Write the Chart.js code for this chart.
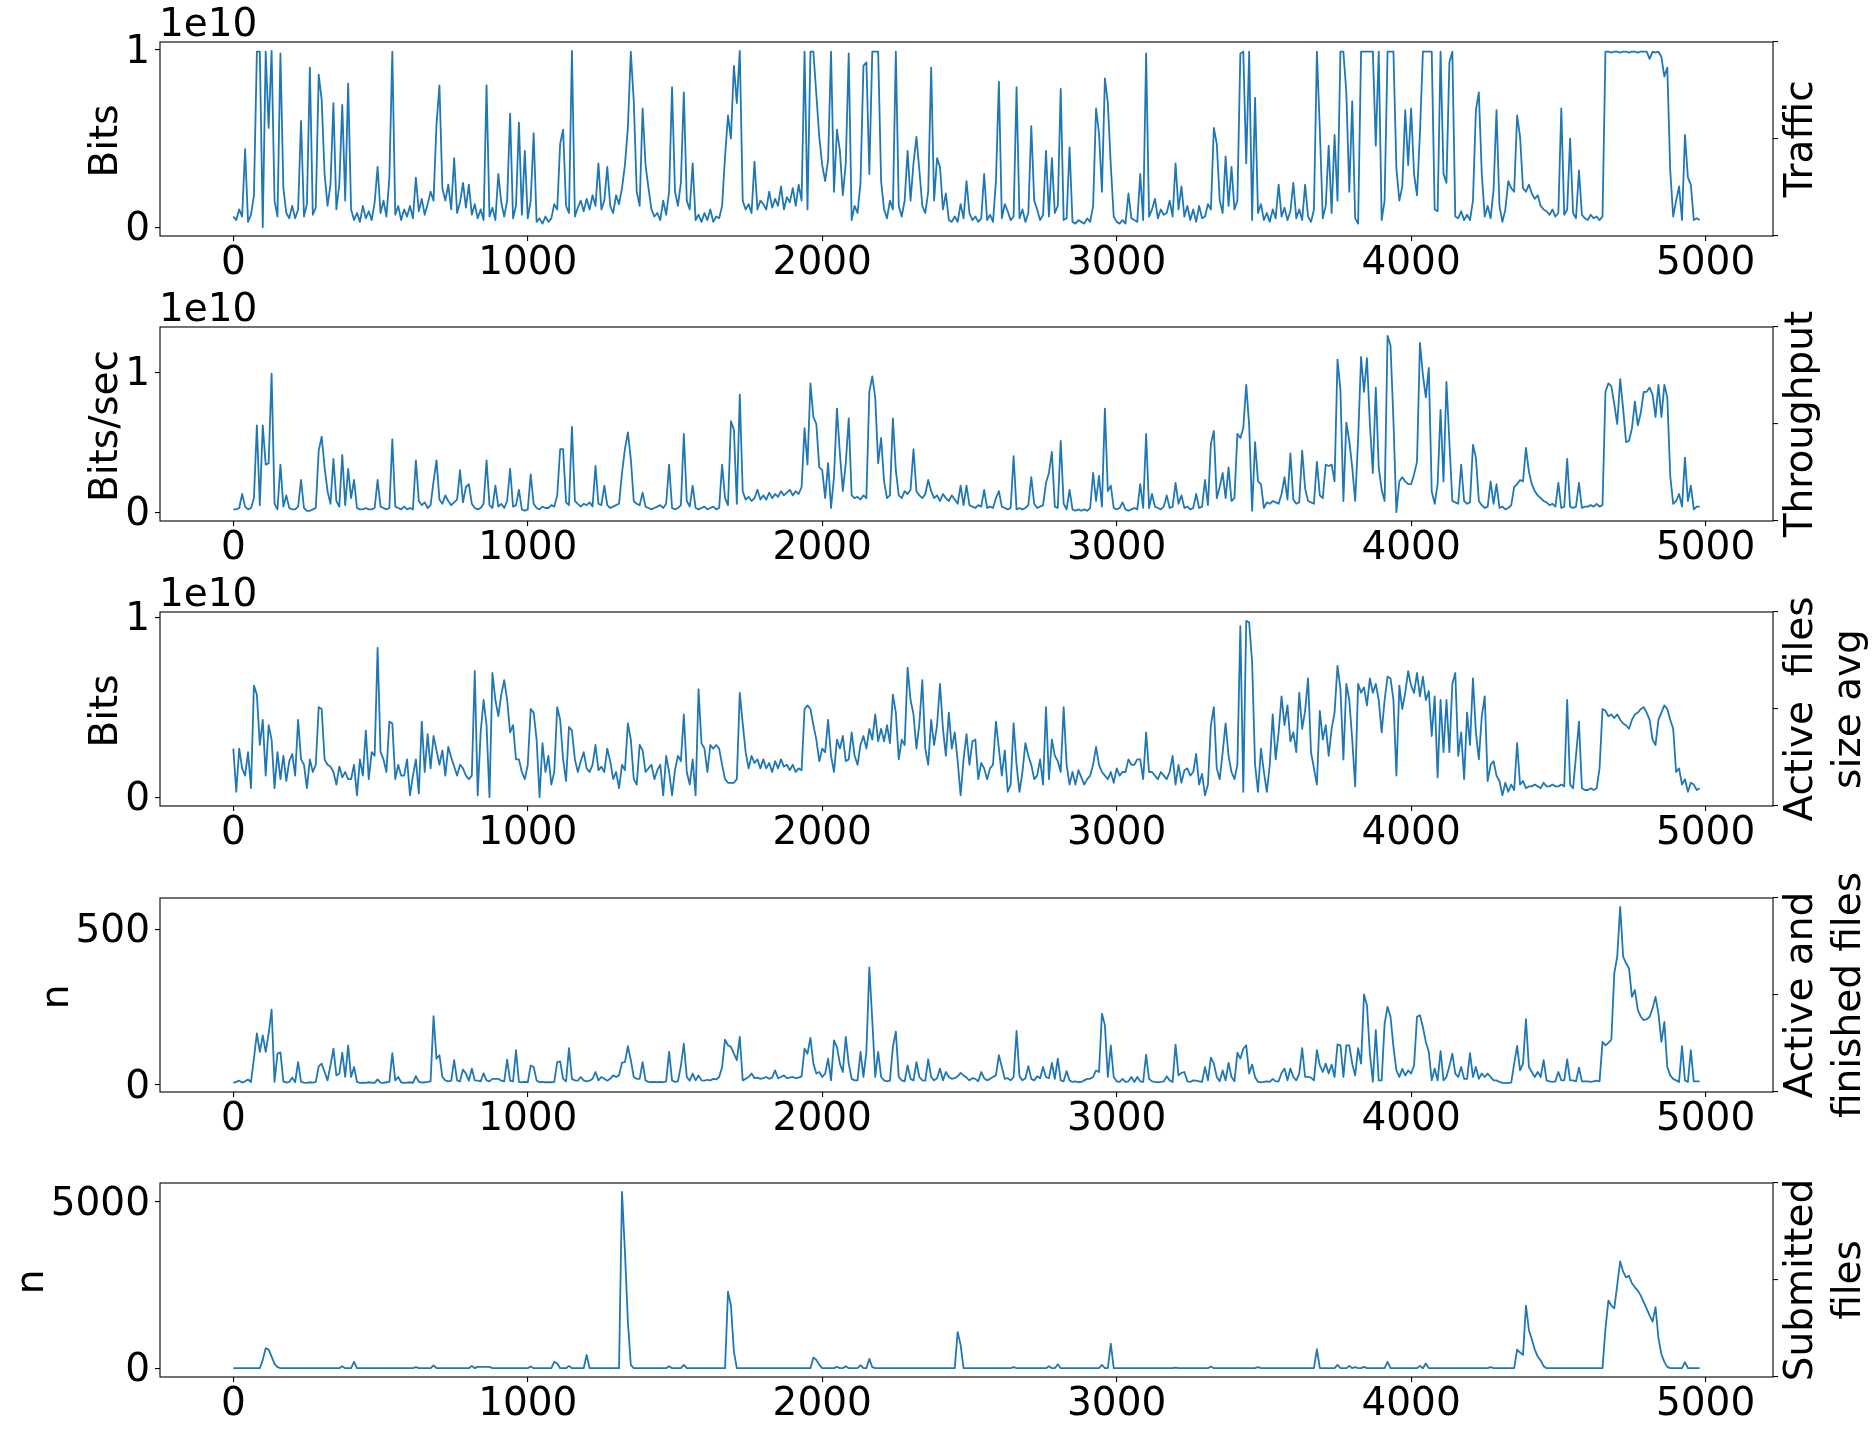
<!DOCTYPE html>
<html>
<head>
<meta charset="utf-8">
<title>Transfer metrics</title>
<script src="https://cdn.jsdelivr.net/npm/chart.js@4.4.1/dist/chart.umd.min.js"></script>
<style>
  html, body { margin: 0; padding: 0; background: #fff; }
  #figure { position: relative; width: 1875px; height: 1433px; overflow: hidden; }
  #figure canvas { position: absolute; left: 0; }
</style>
</head>
<body>
<div id="figure"></div>
<script>
// ── Data ────────────────────────────────────────────────────────────

// one sample every TIME_STEP seconds, starting at 0
const TIME_STEP = 10;
const X_TICKS = [0, 1000, 2000, 3000, 4000, 5000];

// Traffic, in 1e9 bits
const trafficGbit = [
  0.6, 0.4, 1.0, 0.6, 4.4, 0.3, 0.7, 1.8, 9.9, 9.9,
  0.0, 9.9, 5.6, 9.95, 1.5, 0.6, 9.8, 2.2, 0.8, 0.5,
  1.2, 0.5, 1.0, 6.0, 0.6, 1.3, 9.0, 0.7, 1.1, 8.6,
  7.2, 3.0, 1.2, 2.4, 7.0, 1.0, 2.4, 6.9, 1.5, 8.1,
  1.0, 0.4, 0.8, 0.3, 1.2, 0.5, 0.9, 0.4, 1.4, 3.4,
  0.8, 1.5, 0.6, 2.8, 9.9, 0.7, 1.2, 0.4, 1.0, 0.6,
  1.2, 0.5, 2.8, 0.9, 1.6, 0.7, 1.3, 2.0, 1.5, 5.8,
  8.0, 2.2, 1.5, 2.4, 1.0, 3.9, 0.8, 1.4, 2.5, 1.1,
  2.4, 0.7, 1.3, 0.5, 1.0, 0.4, 8.0, 0.6, 1.1, 0.4,
  3.0, 1.4, 0.6, 1.5, 6.4, 0.5, 1.2, 5.9, 0.7, 4.3,
  0.5, 1.5, 5.3, 0.3, 0.5, 0.2, 0.6, 0.3, 0.5, 1.3,
  1.0, 4.7, 5.5, 1.2, 0.8, 9.95, 0.6, 1.1, 1.5, 0.9,
  1.6, 1.0, 1.8, 1.2, 3.6, 1.0, 1.5, 3.4, 1.2, 0.8,
  1.8, 1.3, 2.2, 3.5, 5.6, 9.9, 7.1, 2.0, 1.2, 6.7,
  3.5, 2.2, 1.0, 0.6, 0.8, 0.4, 1.5, 0.7, 2.0, 7.9,
  2.0, 1.2, 2.5, 7.6, 1.5, 1.0, 3.6, 0.4, 0.7, 0.3,
  0.8, 0.4, 1.0, 0.3, 0.6, 0.5, 1.2, 4.0, 6.3, 5.0,
  9.1, 7.0, 9.95, 1.5, 1.0, 1.3, 0.8, 3.7, 1.0, 1.5,
  1.3, 1.0, 2.0, 1.1, 1.6, 1.2, 2.3, 1.0, 1.7, 1.4,
  2.2, 1.2, 2.4, 1.5, 9.9, 1.0, 9.9, 9.9, 7.5, 5.1,
  3.5, 2.6, 3.8, 9.9, 2.0, 5.5, 4.3, 1.8, 3.6, 9.8,
  0.4, 1.2, 0.8, 2.5, 9.1, 9.3, 3.0, 9.9, 9.9, 9.9,
  2.6, 1.0, 0.5, 1.5, 1.0, 9.9, 1.2, 0.6, 1.5, 4.3,
  1.5, 3.6, 5.1, 3.2, 1.2, 0.8, 2.0, 9.0, 1.5, 3.9,
  3.4, 1.0, 1.9, 0.4, 0.3, 0.6, 0.3, 1.3, 0.5, 2.6,
  0.8, 0.4, 0.6, 0.3, 0.5, 3.0, 0.4, 0.7, 0.3, 2.6,
  8.2, 0.5, 1.3, 0.9, 0.4, 0.6, 7.9, 0.5, 1.0, 0.3,
  0.8, 5.7, 1.5, 1.0, 0.4, 0.7, 4.3, 0.6, 3.9, 0.8,
  1.2, 7.8, 0.4, 0.5, 4.5, 0.3, 0.2, 0.4, 0.3, 0.2,
  0.5, 0.3, 1.2, 6.7, 5.3, 2.0, 8.4, 7.0, 3.5, 0.6,
  0.3, 0.2, 0.4, 0.2, 1.9, 0.5, 0.4, 0.3, 3.0, 0.4,
  9.8, 0.6, 1.0, 1.6, 0.5, 1.0, 0.7, 0.8, 1.5, 0.6,
  3.6, 1.0, 2.3, 0.6, 1.2, 0.4, 1.0, 0.3, 1.2, 0.5,
  0.6, 1.3, 1.0, 5.6, 4.7, 1.5, 0.8, 4.0, 1.2, 3.4,
  1.0, 1.5, 9.8, 9.9, 3.6, 9.9, 0.4, 7.3, 0.8, 1.3,
  0.4, 0.8, 0.3, 1.0, 0.5, 2.4, 0.6, 1.1, 0.4, 0.9,
  2.5, 0.5, 1.0, 0.4, 2.4, 0.6, 0.3, 1.0, 9.9, 5.5,
  0.5, 1.2, 4.6, 0.8, 5.2, 1.5, 9.9, 9.9, 7.6, 2.0,
  7.1, 0.5, 0.2, 9.9, 9.9, 9.9, 9.9, 9.9, 4.6, 9.9,
  0.4, 1.5, 9.9, 9.9, 9.9, 3.3, 1.5, 2.3, 6.6, 3.5,
  6.7, 3.0, 1.8, 5.3, 9.9, 9.9, 9.9, 9.9, 1.0, 0.9,
  9.9, 3.0, 2.5, 9.3, 9.9, 0.6, 0.5, 0.9, 0.4, 0.7,
  0.4, 1.5, 6.6, 7.6, 3.0, 0.6, 1.2, 0.5, 2.1, 6.6,
  1.2, 0.3, 1.0, 2.6, 2.2, 2.0, 6.3, 5.1, 2.2, 2.0,
  2.4, 1.9, 1.6, 1.8, 1.2, 1.0, 0.9, 0.7, 1.0, 0.6,
  0.8, 6.7, 0.7, 1.0, 5.0, 0.8, 0.5, 3.2, 0.7, 0.5,
  0.4, 0.7, 0.5, 0.6, 0.4, 0.6, 9.9, 9.9, 9.85, 9.9,
  9.9, 9.85, 9.9, 9.9, 9.85, 9.9, 9.9, 9.85, 9.9, 9.9,
  9.9, 9.5, 9.9, 9.85, 9.9, 9.6, 8.5, 9.0, 3.2, 0.6,
  1.5, 2.3, 0.4, 5.2, 2.8, 2.4, 0.4, 0.5, 0.4,
];

// Throughput, in 1e9 bits/sec
const throughputGbps = [
  0.2, 0.2, 0.3, 1.3, 0.4, 0.2, 0.3, 1.0, 6.2, 0.5,
  6.2, 3.4, 3.5, 9.9, 0.6, 0.2, 3.4, 0.4, 1.2, 0.3,
  0.2, 0.2, 0.4, 2.3, 0.3, 0.1, 0.1, 0.2, 0.3, 4.4,
  5.4, 3.2, 1.5, 0.6, 3.8, 0.8, 0.4, 4.1, 0.5, 3.1,
  1.0, 2.3, 0.3, 0.2, 0.2, 0.3, 0.2, 0.2, 0.3, 2.3,
  0.4, 0.3, 0.2, 0.3, 5.2, 0.4, 0.3, 0.2, 0.4, 0.2,
  0.3, 0.2, 3.7, 0.8, 0.5, 0.7, 0.3, 0.5, 2.2, 3.7,
  0.9, 0.6, 1.2, 0.8, 0.5, 0.7, 0.9, 3.0, 0.7, 1.8,
  2.0, 0.6, 0.3, 0.2, 0.3, 0.6, 3.7, 0.5, 0.3, 1.9,
  0.4, 0.6, 0.3, 0.8, 3.1, 0.4, 0.5, 1.6, 0.2, 0.1,
  0.2, 2.7, 0.6, 0.3, 0.2, 0.4, 0.3, 0.3, 0.5, 0.4,
  1.2, 4.5, 4.5, 0.7, 0.5, 6.1, 0.8, 0.6, 0.4, 0.6,
  0.5, 0.7, 0.4, 3.3, 0.6, 0.5, 1.9, 0.5, 0.3, 0.4,
  0.5, 0.6, 2.8, 4.5, 5.7, 3.8, 0.8, 0.6, 0.5, 1.4,
  0.4, 0.3, 0.2, 0.3, 0.4, 0.5, 0.3, 0.6, 3.4, 0.3,
  0.2, 0.3, 0.5, 5.6, 0.8, 0.4, 1.9, 0.3, 0.2, 0.3,
  0.4, 0.2, 0.3, 0.4, 0.2, 0.3, 3.4, 1.0, 0.5, 6.5,
  5.9, 0.6, 8.4, 1.5, 0.9, 1.1, 0.8, 1.0, 1.6, 0.9,
  1.2, 0.9, 1.4, 1.0, 1.3, 1.1, 1.5, 1.2, 1.4, 1.6,
  1.2, 1.5, 1.3, 1.8, 6.0, 3.4, 9.2, 6.8, 6.3, 3.2,
  3.0, 1.0, 3.5, 0.3, 2.5, 7.4, 4.2, 1.5, 3.5, 6.7,
  1.2, 1.0, 1.1, 0.9, 1.2, 1.0, 8.6, 9.7, 8.2, 3.5,
  5.3, 2.2, 1.0, 1.2, 6.7, 3.0, 1.2, 1.0, 1.5, 1.3,
  1.6, 4.5, 1.5, 1.2, 1.0, 1.3, 2.3, 1.5, 1.0, 1.2,
  0.8, 1.3, 1.0, 0.8, 1.2, 0.9, 0.6, 1.9, 0.5, 1.9,
  0.5, 0.4, 0.3, 0.5, 0.4, 1.6, 0.3, 0.4, 0.3, 1.0,
  1.5, 0.4, 0.3, 0.2, 0.3, 4.0, 0.2, 0.3, 0.2, 0.3,
  0.5, 2.5, 0.6, 0.3, 0.4, 0.5, 2.1, 2.8, 4.3, 0.4,
  0.3, 5.1, 0.6, 0.2, 1.6, 0.2, 0.1, 0.2, 0.1, 0.2,
  0.1, 0.3, 2.8, 0.8, 2.6, 0.4, 7.4, 1.5, 1.9, 0.3,
  0.2, 0.3, 0.7, 0.2, 0.1, 0.2, 0.3, 0.2, 2.0, 0.3,
  5.6, 0.3, 1.3, 0.4, 0.3, 0.2, 0.4, 1.2, 0.3, 0.4,
  2.1, 0.6, 1.2, 0.3, 0.4, 0.2, 0.3, 1.3, 0.3, 0.4,
  2.3, 0.5, 4.9, 5.8, 1.0, 1.8, 2.8, 1.0, 3.2, 0.8,
  1.0, 5.6, 5.3, 6.0, 9.1, 6.2, 0.1, 5.0, 2.2, 2.0,
  0.3, 0.7, 0.6, 0.8, 0.7, 0.6, 1.3, 2.5, 0.9, 4.2,
  0.9, 0.6, 0.7, 4.4, 1.7, 0.8, 0.7, 0.6, 3.6, 1.2,
  1.0, 3.4, 3.3, 3.4, 2.2, 10.9, 8.7, 0.8, 6.4, 5.1,
  3.2, 0.8, 5.2, 11.1, 8.6, 11.0, 6.3, 2.8, 8.9, 3.2,
  1.6, 0.8, 12.6, 11.9, 6.5, 0.0, 2.2, 2.5, 2.2, 2.0,
  2.0, 2.7, 3.6, 12.1, 9.8, 8.2, 10.3, 1.5, 0.6, 2.0,
  7.3, 2.2, 9.3, 5.0, 0.8, 0.7, 0.6, 3.4, 0.8, 0.6,
  0.7, 4.8, 3.9, 0.8, 0.5, 0.3, 0.4, 2.2, 0.6, 2.0,
  0.3, 0.4, 0.2, 0.3, 0.5, 1.8, 2.0, 2.3, 2.2, 4.6,
  2.9, 2.0, 1.5, 1.2, 1.0, 0.8, 0.7, 0.5, 0.6, 0.4,
  2.1, 0.3, 0.4, 3.8, 0.4, 0.3, 0.4, 2.1, 0.3, 0.4,
  0.4, 0.5, 0.4, 0.6, 0.4, 0.5, 8.6, 9.2, 9.0, 7.7,
  6.3, 9.5, 7.4, 5.0, 5.1, 6.0, 7.9, 6.2, 7.1, 8.6,
  8.6, 8.9, 8.4, 6.8, 9.1, 6.8, 9.1, 8.2, 2.6, 0.6,
  0.8, 1.3, 0.4, 3.9, 0.8, 1.9, 0.2, 0.4, 0.4,
];

// Average size of the active files, in 1e9 bits
const activeSizeGbit = [
  2.7, 0.3, 2.7, 1.6, 1.2, 2.5, 0.5, 6.2, 5.7, 2.9,
  4.3, 1.2, 4.0, 3.2, 0.5, 2.5, 1.0, 2.3, 0.9, 2.0,
  2.4, 1.2, 4.3, 2.1, 1.8, 0.5, 2.1, 1.4, 1.8, 5.0,
  4.9, 2.1, 1.8, 1.7, 1.4, 0.7, 1.7, 1.1, 1.4, 1.0,
  1.0, 1.8, 0.1, 2.1, 1.2, 3.7, 1.0, 2.5, 2.3, 8.3,
  2.5, 2.1, 1.4, 4.2, 4.1, 1.0, 1.8, 1.2, 1.2, 2.1,
  0.1, 1.2, 2.1, 0.2, 4.2, 1.4, 3.5, 1.6, 3.4, 2.6,
  1.8, 2.6, 1.2, 2.8, 2.2, 1.7, 1.2, 1.8, 1.6, 1.2,
  1.0, 1.2, 7.0, 0.1, 3.6, 5.4, 4.0, 0.0, 6.9, 5.4,
  4.5, 5.7, 6.5, 5.4, 3.6, 4.0, 2.1, 2.1, 1.4, 1.0,
  1.8, 4.9, 4.7, 3.2, 0.0, 3.0, 1.4, 2.3, 0.7, 1.4,
  5.0, 4.3, 2.1, 0.9, 3.9, 3.7, 2.1, 1.4, 2.0, 2.5,
  1.6, 1.4, 1.8, 2.9, 1.5, 1.7, 1.4, 2.7, 2.0, 1.0,
  1.4, 0.5, 1.8, 1.5, 4.1, 3.2, 1.0, 0.7, 2.9, 2.6,
  1.4, 1.6, 1.8, 1.0, 1.5, 1.8, 0.1, 2.3, 1.4, 0.1,
  1.5, 2.3, 2.0, 4.6, 1.4, 0.7, 2.1, 0.1, 6.0, 3.0,
  2.7, 1.4, 2.9, 2.7, 2.9, 2.7, 1.8, 1.0, 0.8, 0.8,
  0.8, 1.0, 5.8, 4.1, 2.5, 1.6, 2.3, 1.9, 2.1, 1.6,
  2.1, 1.6, 1.9, 1.4, 2.0, 1.6, 2.1, 1.7, 1.8, 1.5,
  1.8, 1.4, 1.6, 1.5, 4.9, 5.1, 4.9, 4.0, 3.2, 2.0,
  2.7, 2.5, 4.3, 2.3, 1.4, 3.2, 2.7, 3.4, 2.0, 2.1,
  3.6, 2.3, 1.8, 2.9, 3.4, 2.7, 3.8, 3.2, 4.6, 3.1,
  3.8, 3.1, 4.0, 3.0, 5.7, 4.7, 2.1, 3.2, 2.9, 7.2,
  5.4, 4.6, 2.7, 4.1, 6.5, 2.7, 1.8, 4.3, 2.9, 4.0,
  6.3, 3.8, 2.3, 4.7, 2.7, 3.6, 2.0, 0.1, 2.1, 3.5,
  1.8, 3.1, 3.2, 1.0, 1.9, 1.6, 1.0, 1.6, 1.8, 4.2,
  2.7, 1.2, 2.6, 0.3, 0.7, 4.1, 1.8, 0.3, 1.4, 3.0,
  2.3, 1.8, 1.0, 1.2, 2.1, 0.7, 5.0, 1.0, 3.2, 2.3,
  2.0, 1.4, 5.0, 1.8, 0.7, 1.4, 0.7, 1.5, 1.1, 0.7,
  1.0, 1.2, 1.8, 2.8, 1.8, 1.4, 1.2, 1.0, 1.4, 0.8,
  1.6, 1.2, 1.4, 1.4, 2.1, 1.8, 1.8, 2.1, 2.1, 1.0,
  3.6, 1.4, 1.4, 1.2, 1.0, 1.4, 1.2, 1.0, 1.4, 2.3,
  0.7, 1.8, 0.8, 1.5, 1.6, 1.2, 1.4, 2.4, 0.7, 1.3,
  0.1, 0.7, 4.0, 5.0, 1.6, 1.0, 2.5, 4.1, 2.3, 1.4,
  1.0, 1.8, 9.5, 0.3, 9.8, 9.7, 7.5, 1.8, 0.3, 2.7,
  1.4, 0.3, 1.8, 4.6, 2.1, 3.6, 5.6, 4.0, 5.1, 3.1,
  3.6, 2.5, 5.8, 3.8, 4.8, 6.6, 2.5, 1.6, 0.7, 4.8,
  3.2, 4.0, 2.3, 3.8, 4.7, 7.3, 6.0, 2.1, 6.3, 5.4,
  3.2, 0.6, 6.3, 5.8, 6.1, 5.1, 6.6, 5.8, 6.3, 5.4,
  3.6, 5.4, 6.7, 6.6, 5.4, 1.2, 6.2, 4.9, 5.8, 7.0,
  6.2, 5.8, 6.9, 5.6, 6.7, 5.4, 5.9, 3.4, 5.6, 1.1,
  5.4, 2.5, 5.4, 2.5, 6.3, 6.9, 2.3, 3.6, 1.0, 4.7,
  2.9, 6.6, 3.6, 2.1, 4.5, 5.6, 0.9, 1.8, 2.0, 1.2,
  0.9, 0.1, 0.8, 0.3, 0.7, 0.4, 3.0, 0.7, 0.9, 0.5,
  0.6, 0.6, 0.7, 0.6, 0.5, 0.8, 0.6, 0.6, 0.7, 0.6,
  0.6, 0.7, 0.6, 5.4, 0.7, 0.5, 2.3, 4.2, 0.5, 0.4,
  0.4, 0.5, 0.4, 0.5, 1.6, 4.9, 4.8, 4.5, 4.6, 4.4,
  4.6, 4.3, 4.1, 4.0, 3.8, 4.3, 4.6, 4.7, 4.9, 5.0,
  4.7, 4.3, 3.2, 2.9, 4.3, 4.7, 5.1, 4.9, 4.3, 3.8,
  1.4, 1.6, 0.7, 1.0, 0.3, 0.8, 0.7, 0.4, 0.5,
];

// Number of active and finished files
const activeFinishedFiles = [
  5, 8, 12, 6, 10, 16, 8, 83, 164, 105,
  158, 105, 164, 241, 8, 99, 103, 10, 6, 8,
  22, 7, 72, 8, 6, 5, 7, 6, 8, 58,
  67, 40, 13, 61, 115, 29, 35, 102, 24, 126,
  24, 56, 8, 5, 6, 5, 7, 6, 5, 16,
  6, 5, 7, 8, 101, 13, 24, 7, 5, 6,
  7, 5, 27, 8, 6, 7, 8, 10, 220, 83,
  94, 24, 13, 10, 12, 78, 13, 10, 48, 35,
  12, 51, 13, 12, 10, 36, 13, 10, 18, 18,
  18, 12, 10, 80, 12, 10, 110, 8, 7, 8,
  7, 61, 56, 13, 7, 8, 7, 7, 7, 8,
  72, 74, 18, 10, 117, 18, 13, 12, 24, 13,
  10, 12, 18, 40, 13, 24, 18, 12, 18, 29,
  24, 29, 70, 72, 123, 78, 24, 18, 18, 72,
  13, 8, 7, 8, 7, 8, 7, 10, 105, 13,
  8, 10, 60, 131, 24, 12, 35, 13, 29, 13,
  12, 15, 13, 18, 16, 24, 56, 144, 126, 121,
  99, 78, 153, 13, 18, 24, 35, 20, 22, 18,
  20, 24, 18, 22, 45, 20, 24, 29, 20, 22,
  24, 20, 22, 26, 115, 99, 150, 67, 35, 40,
  24, 35, 83, 13, 142, 120, 67, 40, 153, 67,
  18, 13, 13, 105, 24, 105, 377, 207, 24, 105,
  24, 13, 10, 12, 121, 170, 24, 13, 10, 61,
  18, 13, 72, 24, 13, 12, 81, 24, 13, 20,
  51, 13, 40, 24, 18, 20, 26, 37, 29, 22,
  13, 20, 18, 10, 40, 20, 13, 18, 24, 29,
  94, 56, 18, 20, 13, 24, 172, 26, 13, 20,
  59, 18, 13, 26, 20, 56, 24, 20, 69, 18,
  83, 13, 10, 43, 13, 8, 10, 7, 8, 13,
  18, 18, 24, 45, 40, 228, 191, 24, 126, 24,
  10, 8, 18, 8, 10, 24, 8, 24, 10, 8,
  96, 18, 10, 8, 7, 8, 10, 26, 13, 8,
  128, 29, 37, 40, 10, 8, 13, 12, 10, 8,
  56, 13, 86, 67, 24, 10, 45, 13, 69, 24,
  10, 102, 83, 115, 126, 35, 64, 24, 8, 7,
  8, 10, 8, 18, 10, 10, 37, 51, 13, 51,
  24, 13, 35, 117, 24, 24, 22, 13, 110, 61,
  40, 67, 35, 64, 24, 129, 126, 24, 126, 126,
  67, 29, 117, 67, 290, 255, 99, 8, 175, 13,
  13, 196, 250, 218, 121, 45, 24, 50, 29, 45,
  35, 61, 218, 223, 185, 137, 105, 13, 51, 13,
  107, 13, 24, 59, 99, 35, 24, 56, 18, 18,
  101, 24, 56, 18, 35, 24, 35, 24, 13, 13,
  8, 5, 4, 5, 6, 67, 124, 45, 67, 210,
  56, 40, 24, 40, 24, 78, 13, 10, 8, 10,
  40, 13, 13, 81, 13, 13, 10, 54, 10, 10,
  10, 8, 10, 12, 10, 137, 126, 134, 144, 358,
  412, 572, 412, 390, 374, 282, 304, 239, 218, 207,
  210, 218, 245, 282, 228, 137, 201, 56, 29, 18,
  13, 8, 123, 13, 8, 110, 10, 10, 10,
];

// Number of submitted files
const submittedFiles = [
  0, 0, 0, 0, 0, 0, 0, 0, 0, 0,
  250, 600, 558, 350, 130, 30, 0, 0, 0, 0,
  0, 0, 0, 0, 0, 0, 0, 0, 0, 0,
  0, 0, 0, 0, 0, 0, 0, 60, 0, 0,
  0, 189, 0, 0, 0, 0, 0, 0, 0, 0,
  0, 0, 0, 0, 0, 0, 0, 0, 0, 0,
  0, 0, 30, 0, 0, 0, 0, 0, 80, 0,
  0, 0, 0, 0, 0, 0, 0, 0, 0, 0,
  0, 70, 0, 40, 40, 40, 40, 40, 0, 0,
  0, 0, 0, 0, 0, 0, 0, 0, 0, 0,
  0, 50, 0, 0, 0, 0, 0, 0, 0, 189,
  139, 0, 0, 0, 70, 0, 0, 0, 0, 0,
  398, 0, 0, 0, 0, 0, 0, 0, 0, 0,
  0, 0, 5300, 3500, 1400, 90, 0, 0, 0, 0,
  0, 0, 0, 0, 0, 0, 0, 0, 60, 0,
  0, 0, 0, 100, 0, 0, 0, 0, 0, 0,
  0, 0, 0, 0, 0, 0, 0, 0, 2300, 1882,
  500, 0, 0, 0, 0, 0, 0, 0, 0, 0,
  0, 0, 0, 0, 0, 0, 0, 0, 0, 0,
  0, 0, 0, 0, 0, 0, 0, 319, 250, 100,
  0, 0, 0, 0, 0, 40, 0, 0, 60, 0,
  0, 0, 0, 90, 0, 0, 279, 30, 0, 0,
  0, 0, 0, 0, 0, 0, 0, 0, 0, 0,
  0, 0, 0, 0, 0, 0, 0, 0, 0, 0,
  0, 0, 0, 0, 0, 0, 1086, 700, 0, 0,
  0, 0, 0, 0, 0, 0, 0, 0, 0, 0,
  0, 0, 0, 0, 0, 30, 0, 0, 0, 0,
  0, 0, 0, 0, 0, 0, 0, 60, 0, 0,
  120, 0, 0, 0, 0, 0, 0, 0, 0, 0,
  0, 0, 0, 0, 0, 100, 0, 0, 737, 0,
  0, 0, 0, 0, 0, 0, 0, 0, 0, 0,
  0, 0, 0, 0, 0, 0, 0, 0, 0, 0,
  20, 0, 0, 0, 0, 0, 0, 0, 0, 0,
  0, 0, 50, 0, 0, 0, 0, 0, 0, 0,
  0, 0, 0, 0, 0, 0, 0, 0, 30, 0,
  0, 0, 0, 0, 0, 0, 0, 0, 0, 0,
  0, 0, 0, 0, 0, 0, 0, 0, 568, 0,
  0, 0, 0, 0, 0, 100, 0, 0, 0, 70,
  0, 30, 0, 0, 40, 0, 0, 0, 0, 0,
  0, 0, 189, 0, 0, 0, 0, 0, 0, 0,
  0, 0, 0, 70, 0, 139, 0, 0, 0, 0,
  0, 0, 0, 0, 0, 0, 0, 0, 0, 0,
  0, 0, 0, 0, 0, 0, 0, 30, 0, 0,
  0, 0, 0, 0, 0, 0, 558, 470, 400, 1882,
  1150, 860, 560, 350, 230, 60, 0, 0, 0, 0,
  0, 0, 0, 0, 0, 0, 0, 0, 0, 0,
  0, 0, 0, 0, 0, 0, 1185, 2032, 1882, 1800,
  2500, 3207, 2900, 2729, 2779, 2550, 2430, 2331, 2181, 1982,
  1783, 1584, 1400, 1833, 900, 420, 189, 40, 0, 0,
  0, 0, 0, 179, 0, 0, 0, 0, 0,
];

// Axis texts
const Y_LABELS = ['Bits', 'Bits/sec', 'Bits', 'n', 'n'];
const SIDE_LABELS = [
  ['Traffic'],
  ['Throughput'],
  ['Active  files', 'size avg'],
  ['Active and', 'finished files'],
  ['Submitted', 'files'],
];

// values, the unit they are stored in, and the left ticks of each panel
const PANELS = [
  { values: trafficGbit,         unit: 1e9, yTicks: [0, 1e10], tickDiv: 1e10, offsetText: '1e10' },
  { values: throughputGbps,      unit: 1e9, yTicks: [0, 1e10], tickDiv: 1e10, offsetText: '1e10' },
  { values: activeSizeGbit,      unit: 1e9, yTicks: [0, 1e10], tickDiv: 1e10, offsetText: '1e10' },
  { values: activeFinishedFiles, unit: 1,   yTicks: [0, 500],  tickDiv: 1,    offsetText: '' },
  { values: submittedFiles,      unit: 1,   yTicks: [0, 5000], tickDiv: 1,    offsetText: '' },
];

// ── Layout ──────────────────────────────────────────────────────────

const FIG_W = 1875;
const FIG_H = 1433;
const PANEL_TOPS = [42, 327, 612, 898, 1183];
const PLOT_H = 194;
const PLOT_LEFT = 160;
const PLOT_RIGHT = 1773;
const TOP_PAD = 42;

const FONT = 'DejaVu Sans';
const FONT_PX = 39;
const LINE_COLOR = '#1f77b4';

// matplotlib-like 5% margins around the data
function padded(values) {
  const lo = Math.min(...values);
  const hi = Math.max(...values);
  const pad = (hi - lo) * 0.05;
  return [lo - pad, hi + pad];
}

// ── Decorations: frame, offset text, axis labels ────────────────────

const panelDecor = {
  id: 'panelDecor',
  afterDraw(chart, args, opts) {
    const { ctx, chartArea: a } = chart;
    ctx.save();
    ctx.strokeStyle = '#000';
    ctx.lineWidth = 1.1;
    ctx.strokeRect(a.left, a.top, a.right - a.left, a.bottom - a.top);

    ctx.fillStyle = '#000';
    ctx.font = `${FONT_PX}px "${FONT}"`;

    if (opts.offsetText) {
      ctx.textAlign = 'left';
      ctx.textBaseline = 'alphabetic';
      ctx.fillText(opts.offsetText, a.left - 1, a.top - 6);
    }

    const midY = (a.top + a.bottom) / 2;
    const widest = Math.max(...chart.scales.y.ticks.map(t => ctx.measureText(String(t.label)).width));
    const yLabelX = a.left - 10 - widest - 18;

    ctx.textAlign = 'center';
    ctx.textBaseline = 'middle';
    ctx.save();
    ctx.translate(yLabelX, midY + 2);
    ctx.rotate(-Math.PI / 2);
    ctx.fillText(opts.yLabel, 0, 0);
    ctx.restore();

    opts.sideLabel.forEach((line, i) => {
      ctx.save();
      ctx.translate(a.right + 29 + i * 48, midY);
      ctx.rotate(-Math.PI / 2);
      ctx.fillText(line, 0, 0);
      ctx.restore();
    });
    ctx.restore();
  }
};

// ── Charts ──────────────────────────────────────────────────────────

const tickFont = { family: FONT, size: FONT_PX, lineHeight: 1 };
const tickGrid = { drawOnChartArea: false, drawTicks: true, tickLength: 5, color: '#000', lineWidth: 1.1 };

function createPanel(panel, index) {
  const top = PANEL_TOPS[index] - TOP_PAD;
  const next = index + 1 < PANEL_TOPS.length ? PANEL_TOPS[index + 1] - TOP_PAD : FIG_H;
  const height = next - top;

  const canvas = document.createElement('canvas');
  canvas.width = FIG_W;
  canvas.height = height;
  canvas.style.top = top + 'px';
  canvas.style.width = FIG_W + 'px';
  canvas.style.height = height + 'px';
  document.getElementById('figure').appendChild(canvas);

  const points = panel.values.map((v, i) => ({ x: i * TIME_STEP, y: v * panel.unit }));
  const [xMin, xMax] = padded(points.map(p => p.x));
  const [yMin, yMax] = padded(points.map(p => p.y));

  new Chart(canvas, {
    type: 'line',
    data: {
      datasets: [{
        data: points,
        borderColor: LINE_COLOR,
        borderWidth: 1.8,
        borderJoinStyle: 'round',
        pointRadius: 0,
        tension: 0,
        fill: false,
      }],
    },
    options: {
      responsive: false,
      animation: false,
      devicePixelRatio: 1,
      layout: { padding: { top: TOP_PAD, left: 0, right: 0, bottom: 0 } },
      plugins: {
        legend: { display: false },
        tooltip: { enabled: false },
        panelDecor: {
          yLabel: Y_LABELS[index],
          sideLabel: SIDE_LABELS[index],
          offsetText: panel.offsetText,
        },
      },
      scales: {
        x: {
          type: 'linear',
          min: xMin,
          max: xMax,
          afterBuildTicks: s => { s.ticks = X_TICKS.map(v => ({ value: v })); },
          afterFit: s => { s.height = height - TOP_PAD - PLOT_H; },
          ticks: { font: tickFont, color: '#000', padding: 3, maxRotation: 0, autoSkip: false, callback: v => String(v) },
          grid: tickGrid,
          border: { display: false },
        },
        y: {
          position: 'left',
          min: yMin,
          max: yMax,
          afterBuildTicks: s => { s.ticks = panel.yTicks.map(v => ({ value: v })); },
          afterFit: s => { s.width = PLOT_LEFT; },
          ticks: { font: tickFont, color: '#000', padding: 5, labelOffset: 3, callback: v => String(v / panel.tickDiv) },
          grid: tickGrid,
          border: { display: false },
        },
        y2: {
          position: 'right',
          min: 0,
          max: 1,
          afterBuildTicks: s => { s.ticks = [0, 0.5, 1].map(v => ({ value: v })); },
          afterFit: s => { s.width = FIG_W - PLOT_RIGHT; },
          ticks: { display: false },
          grid: tickGrid,
          border: { display: false },
        },
      },
    },
    plugins: [panelDecor],
  });
}

PANELS.forEach(createPanel);
</script>
</body>
</html>
